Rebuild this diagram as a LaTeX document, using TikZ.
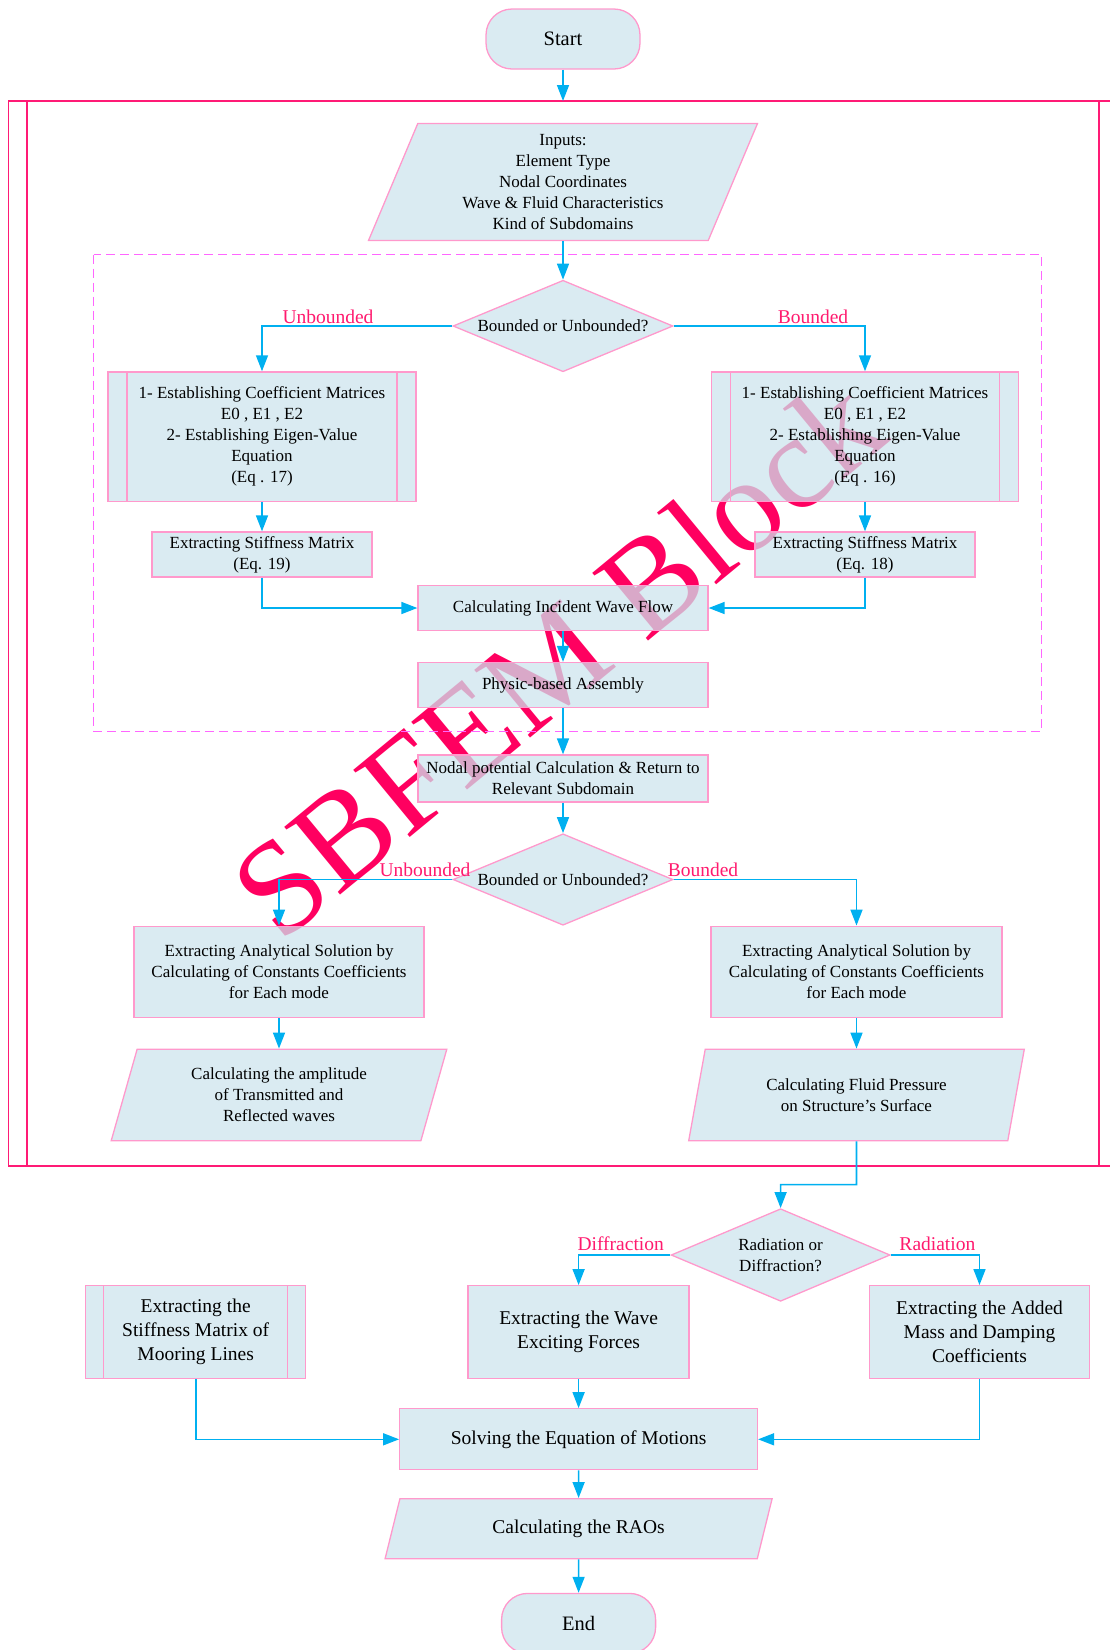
\documentclass[tikz,border=0pt]{standalone}
\usepackage{fontspec}
\setmainfont{Liberation Serif}
\usetikzlibrary{arrows.meta,positioning,shapes.geometric}
\definecolor{boxblue}{HTML}{CDE4ED}
\definecolor{boxpink}{HTML}{FF99CC}
\definecolor{flowblue}{HTML}{00B0F0}
\definecolor{framepink}{HTML}{FF1A75}
\definecolor{dashpink}{HTML}{FF66FF}
\definecolor{lblred}{HTML}{FF1A6E}
\definecolor{wmred}{HTML}{FF0060}

\tikzset{
  base/.style={draw=boxpink, line width=1.3pt, fill=boxblue, fill opacity=0.74,
    text opacity=1, align=center, inner sep=2pt, font=\fontsize{17}{21}\selectfont},
  big/.style={font=\fontsize{19.5}{23.7}\selectfont},
  procbox/.style={base, rectangle},
  subproc/.style={base, rectangle, path picture={
    \draw[boxpink, line width=1.3pt]
      ([xshift=#1]path picture bounding box.north west) -- ([xshift=#1]path picture bounding box.south west)
      ([xshift=-#1]path picture bounding box.north east) -- ([xshift=-#1]path picture bounding box.south east);}},
  iobox/.style={base, trapezium, trapezium stretches body},
  decision/.style={base, diamond, inner sep=0pt, shape aspect=2.4,
    minimum width=220pt, minimum height=91.5pt},
  termbox/.style={base, rectangle, rounded corners=26pt, minimum width=154pt,
    minimum height=60pt, font=\fontsize{20.5}{24}\selectfont},
  flow/.style={draw=flowblue, line width=1.6pt, -{Triangle[length=16pt,width=12pt]}},
  lbl/.style={text=lblred, font=\fontsize{19.5}{23}\selectfont, inner sep=1pt, anchor=base},
  wm/.style={text=wmred, font=\fontsize{134}{134}\selectfont, rotate=39.5, inner sep=0pt},
  dashbox/.style={draw=dashpink, line width=1.3pt, dash pattern=on 9pt off 5pt},
  framebox/.style={draw=framepink, line width=1.6pt}
}

\begin{document}
\begin{tikzpicture}[x=1pt, y=-1pt]
  \useasboundingbox (0,0) rectangle (1110,1650);
  \clip (0,0) rectangle (1110,1650);

  % watermark sits under the boxes
  \node[wm] (wmark) at (557,657) {SBFEM Block};

  % outer SBFEM frame
  \draw[framebox] (8.5,101) rectangle (1118,1166);
  \draw[framebox] (27,101) -- (27,1166);
  \draw[framebox] (1099,101) -- (1099,1166);
  \coordinate (frametop) at (563,101);

  % inner dashed block
  \draw[dashbox] (93.6,254.6) rectangle (1041.6,731.2);

  % ---- top ----
  \node[termbox] (start) at (563,39) {Start};
  \node[iobox, trapezium left angle=63.6, trapezium right angle=116.4,
    minimum width=389pt, minimum height=117pt] (inputs) at (563,182)
    {Inputs:\\Element Type\\Nodal Coordinates\\Wave \& Fluid Characteristics\\Kind of Subdomains};
  \node[decision] (dec1) at (563,326) {Bounded or Unbounded?};

  % ---- subdomain branches ----
  \node[subproc=19pt, minimum width=308pt, minimum height=129.4pt] (unbL) at (262,436.6)
    {1- Establishing Coefficient Matrices\\E0 , E1 , E2\\2- Establishing Eigen-Value\\Equation\\(Eq . 17)};
  \node[subproc=19pt, minimum width=307pt, minimum height=129.4pt] (bndR) at (865,436.6)
    {1- Establishing Coefficient Matrices\\E0 , E1 , E2\\2- Establishing Eigen-Value\\Equation\\(Eq . 16)};
  \node[procbox, minimum width=220pt, minimum height=45pt] (stfL) at (262,554.5)
    {Extracting Stiffness Matrix\\(Eq. 19)};
  \node[procbox, minimum width=220pt, minimum height=45pt] (stfR) at (865,554.5)
    {Extracting Stiffness Matrix\\(Eq. 18)};
  \node[procbox, minimum width=290pt, minimum height=45pt] (incident) at (563,608)
    {Calculating Incident Wave Flow};
  \node[procbox, minimum width=290pt, minimum height=45pt] (assembly) at (563,685)
    {Physic-based Assembly};
  \node[procbox, minimum width=290pt, minimum height=47pt] (nodal) at (563,778.5)
    {Nodal potential Calculation \& Return to\\Relevant Subdomain};
  \node[decision] (dec2) at (563,879.5) {Bounded or Unbounded?};

  \node[procbox, minimum width=290pt, minimum height=91.6pt] (anaL) at (279,972)
    {Extracting Analytical Solution by\\Calculating of Constants Coefficients\\for Each mode};
  \node[procbox, minimum width=291pt, minimum height=91.6pt] (anaR) at (856.5,972)
    {Extracting Analytical Solution by\\Calculating of Constants Coefficients\\for Each mode};
  \node[iobox, trapezium left angle=65.9, trapezium right angle=114.1,
    minimum width=335.6pt, minimum height=91.5pt] (ampL) at (279,1095)
    {Calculating the amplitude\\of Transmitted and\\Reflected waves};
  \node[iobox, trapezium left angle=65.9, trapezium right angle=114.1,
    minimum width=335.6pt, minimum height=91.5pt] (presR) at (856.5,1095)
    {Calculating Fluid Pressure\\on Structure’s Surface};

  % ---- motion analysis ----
  \coordinate (bend) at (856.5,1184.6);
  \node[decision, minimum width=219pt, minimum height=92.6pt] (dec3) at (780.6,1255)
    {Radiation or\\Diffraction?};
  \node[procbox, big, minimum width=221pt, minimum height=92.6pt] (waveF) at (578.6,1332)
    {Extracting the Wave\\Exciting Forces};
  \node[procbox, big, minimum width=220pt, minimum height=92.6pt] (addM) at (979.5,1332)
    {Extracting the Added\\Mass and Damping\\Coefficients};
  \node[subproc=18pt, big, minimum width=220pt, minimum height=92.6pt] (moor) at (195.7,1332)
    {Extracting the\\Stiffness Matrix of\\Mooring Lines};
  \node[procbox, big, minimum width=357.7pt, minimum height=61pt] (solve) at (578.6,1439.3)
    {Solving the Equation of Motions};
  \node[iobox, big, trapezium left angle=55.7, trapezium right angle=124.3,
    minimum width=387pt, minimum height=60pt] (rao) at (578.6,1528.7)
    {Calculating the RAOs};
  \node[termbox] (endT) at (578.6,1623.4) {End};

  % ---- branch labels ----
  \node[lbl] (lblU1) at (328,323) {Unbounded};
  \node[lbl] (lblB1) at (813,323) {Bounded};
  \node[lbl] (lblU2) at (425,876) {Unbounded};
  \node[lbl] (lblB2) at (703,876) {Bounded};
  \node[lbl] (lblD) at (620.7,1250) {Diffraction};
  \node[lbl] (lblR) at (937.4,1250) {Radiation};

  % ---- connectors ----
  \draw[flow] (start) -- (frametop);
  \draw[flow] (inputs) -- (dec1);
  \draw[flow] (dec1.west) -| (unbL.north);
  \draw[flow] (dec1.east) -| (bndR.north);
  \draw[flow] (unbL) -- (stfL);
  \draw[flow] (bndR) -- (stfR);
  \draw[flow] (stfL.south) |- (incident.west);
  \draw[flow] (stfR.south) |- (incident.east);
  \draw[flow] (incident) -- (assembly);
  \draw[flow] (assembly) -- (nodal);
  \draw[flow] (nodal) -- (dec2);
  \draw[flow] (dec2.west) -| (anaL.north);
  \draw[flow] (dec2.east) -| (anaR.north);
  \draw[flow] (anaL) -- (ampL);
  \draw[flow] (anaR) -- (presR);
  \draw[flow] (presR.south) -- (bend) -| (dec3.north);
  \draw[flow] (dec3.west) -| (waveF.north);
  \draw[flow] (dec3.east) -| (addM.north);
  \draw[flow] (waveF) -- (solve);
  \draw[flow] (moor.south) |- (solve.west);
  \draw[flow] (addM.south) |- (solve.east);
  \draw[flow] (solve) -- (rao);
  \draw[flow] (rao) -- (endT);

\end{tikzpicture}
\end{document}
